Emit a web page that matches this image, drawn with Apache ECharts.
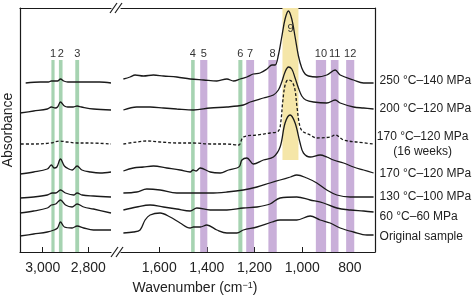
<!DOCTYPE html>
<html>
<head>
<meta charset="utf-8">
<script src="https://cdn.jsdelivr.net/npm/echarts@6/dist/echarts.min.js"></script>
<style>
html, body { margin: 0; padding: 0; background: #fff; }
#chart { width: 475px; height: 296px; }
</style>
</head>
<body>
<div id="chart"></div>
<script>
// sample labels, top to bottom
const samples = ['250 °C–140 MPa', '200 °C–120 MPa', '170 °C–120 MPa\n(16 weeks)', '170 °C–120 MPa', '130 °C–100 MPa', '60 °C–60 MPa', 'Original sample'];

// tick labels (cm-1)
const ticksHi = [3000, 2800];
const ticksLo = [1600, 1400, 1200, 1000, 800];

// spectra, [wavenumber, absorbance (offset, a.u.)], high wavenumber panel
const s250Hi = [[3075,1.69],[3010,1.70],[2975,1.70],[2962,1.71],[2950,1.71],[2935,1.71],[2922,1.73],[2908,1.71],[2890,1.70],[2850,1.70],[2805,1.70],[2750,1.70],[2700,1.69]];
const s200Hi = [[3100,1.39],[3040,1.41],[2980,1.43],[2962,1.45],[2945,1.44],[2935,1.45],[2922,1.50],[2905,1.46],[2890,1.45],[2867,1.45],[2849,1.46],[2830,1.45],[2777,1.43],[2700,1.42]];
const s170wHi = [[3096,1.08],[3040,1.08],[2965,1.09],[2925,1.11],[2893,1.10],[2849,1.09],[2790,1.09],[2700,1.08]];
const s170Hi = [[3100,0.78],[3040,0.80],[2980,0.83],[2962,0.87],[2950,0.84],[2938,0.85],[2922,0.93],[2905,0.86],[2885,0.83],[2870,0.82],[2849,0.86],[2828,0.82],[2790,0.80],[2748,0.79],[2700,0.80]];
const s130Hi = [[3100,0.54],[3040,0.55],[2980,0.57],[2958,0.59],[2943,0.59],[2922,0.62],[2900,0.59],[2864,0.57],[2849,0.59],[2827,0.57],[2777,0.56],[2700,0.55]];
const s60Hi = [[3100,0.39],[3040,0.41],[2980,0.44],[2962,0.47],[2943,0.48],[2922,0.52],[2900,0.47],[2871,0.45],[2849,0.48],[2820,0.45],[2777,0.43],[2700,0.39]];
const origHi = [[3100,0.16],[3040,0.18],[2980,0.20],[2951,0.22],[2935,0.24],[2922,0.30],[2905,0.25],[2871,0.24],[2849,0.26],[2820,0.24],[2777,0.22],[2700,0.22]];

// fingerprint panel
const s250Lo = [[1750,1.73],[1722,1.75],[1701,1.77],[1666,1.76],[1624,1.77],[1582,1.76],[1526,1.75],[1470,1.73],[1414,1.72],[1358,1.71],[1316,1.73],[1288,1.71],[1260,1.73],[1232,1.75],[1205,1.78],[1177,1.79],[1148,1.83],[1127,1.87],[1114,1.87],[1100,1.97],[1086,2.15],[1072,2.33],[1058,2.41],[1044,2.33],[1030,2.15],[1016,1.96],[1002,1.84],[988,1.78],[974,1.76],[939,1.75],[897,1.77],[862,1.82],[841,1.77],[785,1.72],[743,1.69],[701,1.69]];
const s200Lo = [[1750,1.42],[1694,1.45],[1638,1.45],[1582,1.44],[1526,1.43],[1456,1.42],[1386,1.44],[1316,1.45],[1247,1.47],[1218,1.50],[1163,1.54],[1121,1.57],[1100,1.62],[1086,1.70],[1072,1.80],[1058,1.85],[1044,1.83],[1030,1.74],[1016,1.64],[1002,1.56],[985,1.52],[953,1.50],[897,1.49],[862,1.52],[841,1.49],[785,1.45],[743,1.44],[701,1.43]];
const s170wLo = [[1750,1.08],[1694,1.10],[1652,1.11],[1596,1.10],[1526,1.09],[1456,1.09],[1386,1.08],[1316,1.08],[1267,1.07],[1247,1.15],[1190,1.17],[1135,1.19],[1100,1.21],[1090,1.30],[1082,1.50],[1072,1.67],[1060,1.72],[1046,1.71],[1032,1.64],[1022,1.45],[1012,1.28],[1000,1.21],[967,1.17],[939,1.14],[883,1.15],[862,1.17],[827,1.12],[771,1.10],[701,1.08]];
const s170Lo = [[1750,0.81],[1708,0.84],[1666,0.85],[1624,0.86],[1568,0.84],[1512,0.82],[1470,0.80],[1458,0.82],[1445,0.81],[1428,0.84],[1386,0.80],[1344,0.79],[1309,0.82],[1274,0.84],[1262,0.86],[1253,0.92],[1232,0.94],[1205,0.88],[1163,0.92],[1121,0.95],[1093,1.05],[1072,1.29],[1051,1.37],[1030,1.29],[1009,1.09],[995,0.99],[967,0.95],[925,0.97],[897,0.95],[869,0.92],[827,0.89],[785,0.85],[743,0.82],[701,0.79]];
const s130Lo = [[1750,0.59],[1694,0.60],[1652,0.63],[1596,0.62],[1526,0.59],[1456,0.59],[1386,0.59],[1316,0.60],[1247,0.62],[1190,0.65],[1135,0.69],[1093,0.72],[1050,0.75],[1023,0.77],[981,0.74],[939,0.69],[897,0.62],[855,0.57],[799,0.55],[743,0.55],[701,0.55]];
const s60Lo = [[1750,0.42],[1694,0.45],[1638,0.47],[1582,0.45],[1526,0.43],[1470,0.41],[1442,0.44],[1386,0.42],[1316,0.42],[1247,0.44],[1190,0.45],[1135,0.48],[1093,0.54],[1023,0.55],[967,0.52],[911,0.49],[855,0.44],[799,0.42],[743,0.41],[701,0.40]];
const origLo = [[1750,0.19],[1708,0.20],[1680,0.22],[1659,0.32],[1638,0.37],[1596,0.39],[1554,0.35],[1512,0.29],[1470,0.24],[1456,0.25],[1428,0.25],[1400,0.27],[1358,0.22],[1316,0.19],[1274,0.19],[1247,0.22],[1190,0.25],[1127,0.30],[1093,0.32],[1023,0.32],[967,0.36],[925,0.32],[883,0.29],[841,0.24],[785,0.20],[729,0.17],[701,0.17]];

// assigned bands: [label, from, to] in cm-1
const greenBandsHi = [['1', 2962, 2948], ['2', 2929, 2913], ['3', 2857, 2840]];
const greenBandsLo = [['4', 1466, 1451], ['6', 1268, 1251]];
const purpleBands = [['5', 1428, 1398], ['7', 1235, 1202], ['8', 1142, 1107], ['10', 943, 900], ['11', 880, 848], ['12', 816, 782]];
const yellowBand = ['9', 1083, 1016];

const hiData = [s250Hi, s200Hi, s170wHi, s170Hi, s130Hi, s60Hi, origHi];
const loData = [s250Lo, s200Lo, s170wLo, s170Lo, s130Lo, s60Lo, origLo];

const chart = echarts.init(document.getElementById('chart'));
const FONT = 'Liberation Sans, Arial, sans-serif';
const INK = '#1a1a1a';
const GREEN = '#a6d3b1';
const PURPLE = '#c9afd9';
const YELLOW = '#f5e6a8';
const BAND_TOP = 1.92;

const labelShift = [-2, 0, 0, 1, 0, 5, 2];

function bandArea(b, color, top) {
  return [
    { name: b[0], xAxis: b[1], yAxis: top, itemStyle: { color: color } },
    { xAxis: b[2], yAxis: 0 }
  ];
}

const bandLabel = { show: true, position: 'top', distance: 1, color: '#333', fontSize: 11, fontFamily: FONT };

const series = [];
hiData.forEach((d, i) => {
  const s = {
    type: 'line', xAxisIndex: 0, yAxisIndex: 0, data: d,
    showSymbol: false, smooth: 0.35, silent: true,
    lineStyle: { color: INK, width: 1.3, type: i === 2 ? [3, 2] : 'solid' }
  };
  if (i === 6) {
    s.markArea = {
      silent: true, label: bandLabel,
      data: greenBandsHi.map(b => bandArea(b, GREEN, BAND_TOP))
    };
  }
  series.push(s);
});
loData.forEach((d, i) => {
  const s = {
    type: 'line', xAxisIndex: 2, yAxisIndex: 1, data: d, name: samples[i],
    showSymbol: false, smooth: 0.35, silent: true,
    lineStyle: { color: INK, width: 1.3, type: i === 2 ? [3, 2] : 'solid' },
    endLabel: {
      show: true, formatter: samples[i], distance: 0, align: 'left', verticalAlign: 'middle',
      color: '#222', fontSize: 12, fontFamily: FONT, lineHeight: 15,
      offset: [6, labelShift[i]]
    }
  };
  if (i === 2) {
    s.endLabel.align = 'center';
    s.endLabel.offset = [49, 0];
  }
  if (i === 6) {
    const yb = bandArea(yellowBand, YELLOW, 2.44);
    yb[1].yAxis = 0.92;
    yb[0].label = { position: 'insideTop', distance: 15 };
    s.markArea = {
      silent: true, label: bandLabel,
      data: greenBandsLo.map(b => bandArea(b, GREEN, BAND_TOP))
        .concat(purpleBands.map(b => bandArea(b, PURPLE, BAND_TOP)))
        .concat([yb])
    };
  }
  series.push(s);
});

const frameLine = { show: true, onZero: false, lineStyle: { color: INK, width: 1.2 } };

function bottomAxis(grid, min, max, ticks) {
  return {
    type: 'value', gridIndex: grid, position: 'bottom', inverse: true, min: min, max: max,
    axisLine: frameLine, splitLine: { show: false },
    axisTick: { show: true, inside: true, length: 5, lineStyle: { color: INK }, customValues: ticks },
    axisLabel: {
      customValues: ticks, margin: 9, color: '#222', fontSize: 14, fontFamily: FONT,
      formatter: v => v.toLocaleString('en-US')
    }
  };
}
function topAxis(grid, min, max) {
  return {
    type: 'value', gridIndex: grid, position: 'top', inverse: true, min: min, max: max,
    axisLine: frameLine, axisTick: { show: false }, axisLabel: { show: false }, splitLine: { show: false }
  };
}

const option = {
  animation: false,
  grid: [
    { left: 19, top: 8, width: 92, height: 244 },
    { left: 121, top: 8, width: 254, height: 244 }
  ],
  xAxis: [
    bottomAxis(0, 2700, 3100, ticksHi),
    topAxis(0, 2700, 3100),
    bottomAxis(1, 695, 1760, ticksLo),
    topAxis(1, 695, 1760)
  ],
  yAxis: [
    {
      type: 'value', gridIndex: 0, min: 0, max: 2.44, position: 'left',
      axisLine: frameLine, axisTick: { show: false }, axisLabel: { show: false }, splitLine: { show: false },
      name: 'Absorbance', nameLocation: 'middle', nameGap: 5,
      nameTextStyle: { color: '#222', fontSize: 14, fontFamily: FONT }
    },
    {
      type: 'value', gridIndex: 1, min: 0, max: 2.44, position: 'right',
      axisLine: frameLine, axisTick: { show: false }, axisLabel: { show: false }, splitLine: { show: false }
    }
  ],
  graphic: [
    // axis break marks
    { type: 'line', shape: { x1: 110, y1: 13, x2: 117, y2: 3 }, style: { stroke: INK, lineWidth: 1.2 } },
    { type: 'line', shape: { x1: 115, y1: 13, x2: 122, y2: 3 }, style: { stroke: INK, lineWidth: 1.2 } },
    { type: 'line', shape: { x1: 111, y1: 257, x2: 118, y2: 247 }, style: { stroke: INK, lineWidth: 1.2 } },
    { type: 'line', shape: { x1: 116, y1: 257, x2: 123, y2: 247 }, style: { stroke: INK, lineWidth: 1.2 } },
    {
      type: 'text', x: 195, y: 288,
      style: {
        text: 'Wavenumber (cm{sup|−1})', align: 'center', verticalAlign: 'middle',
        fill: '#222', font: '14px ' + FONT,
        rich: { sup: { fontSize: 9, verticalAlign: 'top', fill: '#222', fontFamily: FONT } }
      }
    }
  ],
  series: series
};

chart.setOption(option);
</script>
</body>
</html>
